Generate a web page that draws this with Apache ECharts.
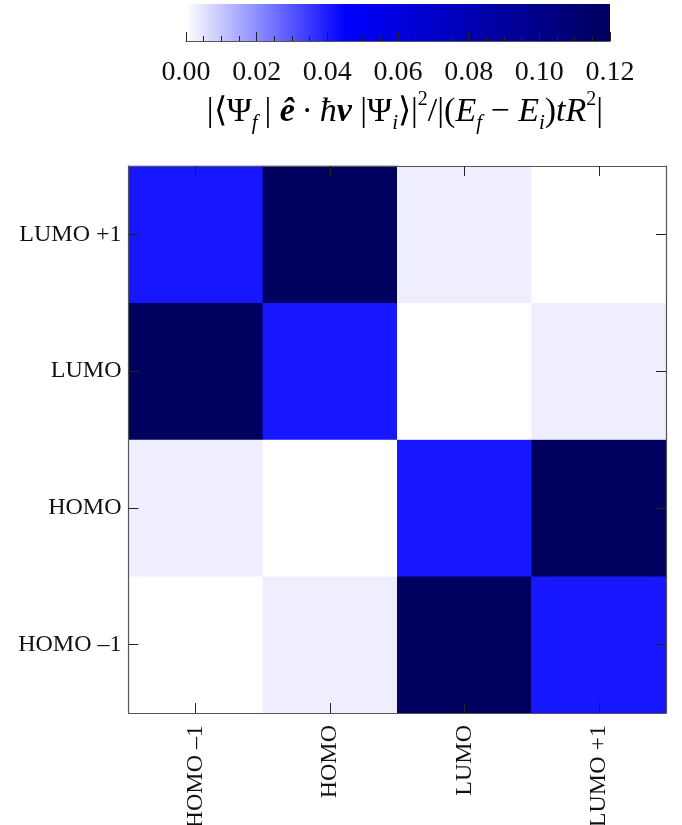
<!DOCTYPE html>
<html>
<head>
<meta charset="utf-8">
<script src="https://cdn.jsdelivr.net/npm/echarts@6/dist/echarts.min.js"></script>
<style>
html,body{margin:0;padding:0;background:#fff;}
#chart{width:682px;height:825px;}
</style>
</head>
<body>
<div id="chart"></div>
<script>
// Orbital categories (x: initial state, y: final state), bottom-to-top for y
const xCategories = ['HOMO \u20131', 'HOMO', 'LUMO', 'LUMO +1'];
const yCategories = ['HOMO \u20131', 'HOMO', 'LUMO', 'LUMO +1'];

// Matrix rows (one per y category), values per x category
const rowHOMOm1 = [0.000, 0.003, 0.120, 0.041];
const rowHOMO   = [0.003, 0.000, 0.041, 0.120];
const rowLUMO   = [0.120, 0.041, 0.000, 0.003];
const rowLUMOp1 = [0.041, 0.120, 0.003, 0.000];
const rows = [rowHOMOm1, rowHOMO, rowLUMO, rowLUMOp1];

// Colour scale
const scaleMin = 0;
const scaleMax = 0.12;
const scaleInterval = 0.02;
const colorList = ['#ffffff', '#aaaaff', '#5555ff', '#0000ff', '#0000df', '#0000bf', '#00009f', '#00007e', '#00005e'];
const colorbarExtent = [[scaleMin, scaleMax]];

const heatData = [];
rows.forEach(function (row, yi) {
  row.forEach(function (v, xi) { heatData.push([xi, yi, v]); });
});

const serif = 'Liberation Serif, Times New Roman, serif';
const axisCol = '#555';
const tickCol = '#222';

const chart = echarts.init(document.getElementById('chart'), null, {renderer: 'canvas'});

const option = {
  backgroundColor: '#ffffff',
  animation: false,
  grid: [
    {left: 128.5, right: 16, top: 166, bottom: 112, containLabel: false, outerBoundsMode: 'none'},
    {left: 186, right: 72, top: 4, height: 37, containLabel: false, outerBoundsMode: 'none'}
  ],
  xAxis: [
    {
      type: 'category', data: xCategories, gridIndex: 0, position: 'bottom', z: 5,
      axisLine: {show: true, lineStyle: {color: axisCol, width: 1.2}},
      axisTick: {show: true, inside: true, length: 10, alignWithLabel: true, lineStyle: {color: tickCol}},
      axisLabel: {rotate: 90, fontSize: 24, fontFamily: serif, color: '#111', margin: 12},
      splitLine: {show: false}
    },
    {
      type: 'category', data: xCategories, gridIndex: 0, position: 'top', z: 5,
      axisLine: {show: true, lineStyle: {color: axisCol, width: 1.2}},
      axisTick: {show: true, inside: true, length: 10, alignWithLabel: true, lineStyle: {color: tickCol}},
      axisLabel: {show: false},
      splitLine: {show: false}
    },
    {
      type: 'value', gridIndex: 1, min: scaleMin, max: scaleMax, interval: scaleInterval, position: 'bottom', z: 5,
      axisLine: {show: true, lineStyle: {color: axisCol, width: 1.2}},
      axisTick: {show: true, inside: true, length: 9, lineStyle: {color: tickCol}},
      minorTick: {show: true, splitNumber: 4, length: 5, lineStyle: {color: tickCol}},
      axisLabel: {fontSize: 28, fontFamily: serif, color: '#111', margin: 18,
        formatter: function (v) { return v.toFixed(2); }},
      splitLine: {show: false},
      minorSplitLine: {show: false}
    }
  ],
  yAxis: [
    {
      type: 'category', data: yCategories, gridIndex: 0, position: 'left', z: 5,
      axisLine: {show: true, lineStyle: {color: axisCol, width: 1.2}},
      axisTick: {show: true, inside: true, length: 10, alignWithLabel: true, lineStyle: {color: tickCol}},
      axisLabel: {fontSize: 24, fontFamily: serif, color: '#111', margin: 7},
      splitLine: {show: false}
    },
    {
      type: 'category', data: yCategories, gridIndex: 0, position: 'right', z: 5,
      axisLine: {show: true, lineStyle: {color: axisCol, width: 1.2}},
      axisTick: {show: true, inside: true, length: 10, alignWithLabel: true, lineStyle: {color: tickCol}},
      axisLabel: {show: false},
      splitLine: {show: false}
    },
    {
      type: 'value', gridIndex: 1, min: 0, max: 1, show: false
    }
  ],
  visualMap: {
    type: 'continuous', show: false, min: scaleMin, max: scaleMax, seriesIndex: 0, calculable: false,
    inRange: {color: colorList}
  },
  series: [
    {
      type: 'heatmap', xAxisIndex: 0, yAxisIndex: 0, data: heatData,
      itemStyle: {borderWidth: 0},
      emphasis: {disabled: true},
      progressive: 0
    },
    {
      type: 'custom', xAxisIndex: 2, yAxisIndex: 2, data: colorbarExtent, silent: true, z: 1,
      renderItem: function (params, api) {
        const p0 = api.coord([api.value(0), 0]);
        const p1 = api.coord([api.value(1), 1]);
        const stops = colorList.map(function (c, i) { return {offset: i / (colorList.length - 1), color: c}; });
        return {
          type: 'rect',
          shape: {x: p0[0], y: p1[1], width: p1[0] - p0[0], height: p0[1] - p1[1]},
          style: {fill: new echarts.graphic.LinearGradient(0, 0, 1, 0, stops)}
        };
      }
    }
  ],
  graphic: [
    {
      type: 'text', x: 405, y: 112,
      style: {
        text: '{n||\u27E8\u03A8}{s|f}{n|\u2009| }{bi|\u00EA}{n|\u2009\u00B7\u2009}{i|\u0127}{bi|\u03BD}{n| |\u03A8}{s|i}{n|\u27E9|}{p|2}{n|/|(}{i|E}{s|f}{n| \u2212 }{i|E}{s|i}{n|)}{i|tR}{p|2}{n||}',
        align: 'center', verticalAlign: 'middle',
        rich: {
          n: {fontFamily: serif, fontSize: 34, color: '#111', lineHeight: 44},
          i: {fontFamily: serif, fontSize: 34, fontStyle: 'italic', color: '#111', lineHeight: 44},
          bi: {fontFamily: serif, fontSize: 34, fontStyle: 'italic', fontWeight: 'bold', color: '#111', lineHeight: 44},
          s: {fontFamily: serif, fontSize: 21, fontStyle: 'italic', color: '#111', lineHeight: 21, verticalAlign: 'bottom'},
          p: {fontFamily: serif, fontSize: 20, color: '#111', lineHeight: 22, verticalAlign: 'top'}
        }
      }
    }
  ]
};

chart.setOption(option);
</script>
</body>
</html>
